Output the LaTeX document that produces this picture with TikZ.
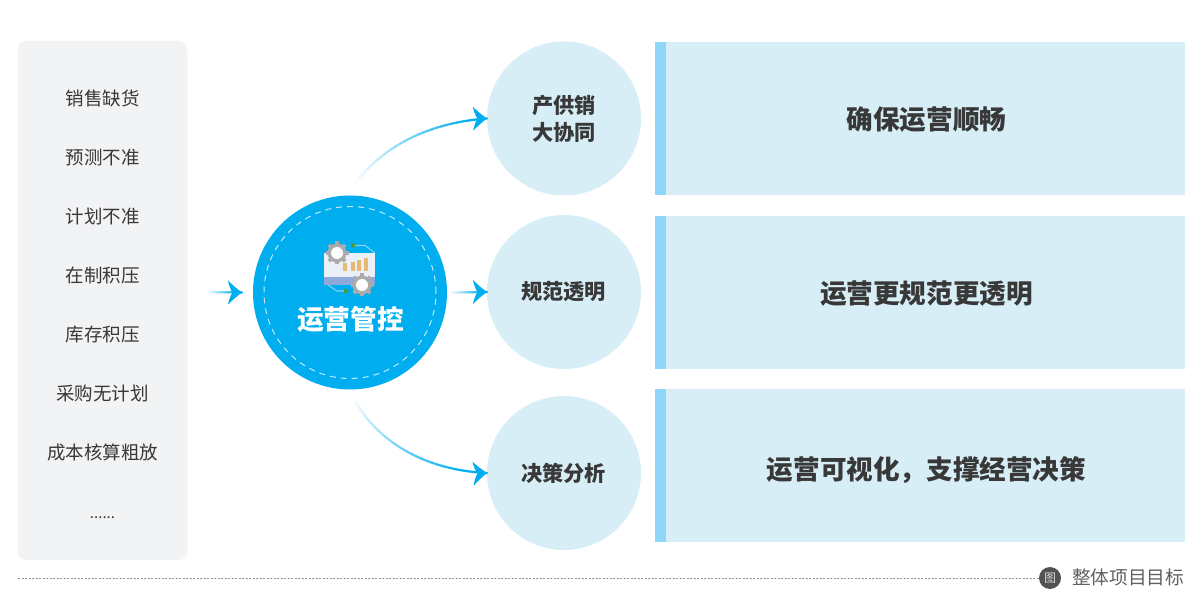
\documentclass[tikz,border=0pt]{standalone}
\usepackage{fontspec}
\setmainfont{Noto Sans CJK SC}
\usetikzlibrary{calc}
\definecolor{ablue}{HTML}{00AEEF}
\definecolor{lightc}{HTML}{D7EEF6}
\definecolor{barc}{HTML}{8FD7FA}
\definecolor{panelc}{HTML}{F2F3F5}
\definecolor{inkc}{HTML}{383838}
\definecolor{iconbody}{HTML}{E9F0F7}
\definecolor{iconstrip}{HTML}{8FA8DA}
\definecolor{iconbar}{HTML}{E9B873}
\definecolor{iconline}{HTML}{7FD3F5}
\definecolor{icongear}{HTML}{ABABAB}
\definecolor{icongreen}{HTML}{4F9A3F}
\tikzset{
  x=1pt,y=-1pt,
  every node/.style={inner sep=0pt,outer sep=0pt,align=center},
  item/.style={font=\fontsize{18.5}{22}\selectfont,text=inkc},
  circ/.style={circle,fill=lightc,minimum size=154pt},
  circtxt/.style={font=\bfseries\fontsize{21.2}{27}\selectfont,text=inkc},
  bigtxt/.style={font=\bfseries\fontsize{26.6}{32}\selectfont,text=inkc},
}
% gradient along a path already marked with coordinates #1-0 ... #1-30
\newcommand{\gradline}[1]{%
  \foreach \ka in {0,...,29}{
    \pgfmathtruncatemacro{\kb}{\ka+1}
    \pgfmathtruncatemacro{\kc}{min(100,\ka*100/26)}
    \draw[color=ablue!\kc!white,line width=2.2pt,line cap=round] (#1-\ka) -- (#1-\kb);
  }%
}
% arrow head with its point at coordinate #1, turned by #2 degrees
\newcommand{\headat}[2]{%
  \fill[ablue,shift={(#1)},rotate=#2] (0,0) .. controls (-5,-3.5) and (-10,-8) .. (-14,-12)
     .. controls (-13,-7) and (-11.5,-3) .. (-9.5,0)
     .. controls (-11.5,3) and (-13,7) .. (-14,12)
     .. controls (-10,8) and (-5,3.5) .. cycle;%
}
\begin{document}
\begin{tikzpicture}
\useasboundingbox (0,0) rectangle (1202,601);
\fill[white] (0,0) rectangle (1202,601);
% left panel
\node[fill=panelc,rounded corners=8pt,minimum width=169pt,minimum height=519pt] (panel) at (102.5,300.5) {};
\node[item] (t1) at (102.5,98) {销售缺货};
\node[item] (t2) at (102.5,157.5) {预测不准};
\node[item] (t3) at (102.5,216) {计划不准};
\node[item] (t4) at (102.5,275) {在制积压};
\node[item] (t5) at (102.5,334.5) {库存积压};
\node[item] (t6) at (102.5,393) {采购无计划};
\node[item] (t7) at (102.5,452) {成本核算粗放};
\node[item,font=\fontsize{15}{18}\selectfont] (t8) at (102.5,518) {......};
% centre
\node[circle,fill=ablue,minimum size=194pt] (hub) at (350,292.5) {};
\draw[white!75!ablue,line width=1pt,dash pattern=on 6pt off 5pt] (hub.center) circle (86pt);
\node[font=\bfseries\fontsize{26.7}{32}\selectfont,text=white] (hubt) at (350.5,319) {运营管控};
% icon
\begin{scope}
\draw[line width=1.1pt,color=iconline] (353,245.5) -- (365,245.5) -- (375,253);
\draw[line width=1.1pt,color=iconline] (328,285) -- (337,291) -- (346,291);
\fill[iconbody] (324,253) rectangle (375,277);
\fill[iconstrip] (324,277) rectangle (375,285);
\foreach \xx/\yy in {345/263,352.5/262,359/260,366/258}{
  \fill[iconbar] (\xx-2,271.5) rectangle (\xx+2,\yy);
}
\fill[icongreen] (353,245.5) circle (2.3pt);
\fill[icongreen] (346,291) circle (2.3pt);
\foreach \cx/\cy in {337/253,362/285}{
  \fill[icongear] (\cx,\cy) circle (9.5pt);
  \foreach \a in {0,45,...,315}{
    \fill[icongear,rotate around={\a:(\cx,\cy)}] (\cx-1.8,\cy-11.5) rectangle (\cx+1.8,\cy-8);
  }
  \fill[white] (\cx,\cy) circle (6pt);
}
\end{scope}
% circles
\node[circ] (c1) at (564,118.5) {};
\node[circ] (c2) at (564,292) {};
\node[circ] (c3) at (564,473) {};
\node[circtxt] (c1t) at (564,119) {产供销\\大协同};
\node[circtxt] (c2t) at (563.5,292) {规范透明};
\node[circtxt] (c3t) at (563.5,473.5) {决策分析};
% right bars
\fill[lightc] (655,42) rectangle (1185,195);
\fill[lightc] (655,216) rectangle (1185,369);
\fill[lightc] (655,389) rectangle (1185,542);
\fill[barc] (655,42) rectangle (666,195);
\fill[barc] (655,216) rectangle (666,369);
\fill[barc] (655,389) rectangle (666,542);
\node[bigtxt] (b1) at (926.5,120) {确保运营顺畅};
\node[bigtxt] (b2) at (926.5,294) {运营更规范更透明};
\node[bigtxt] (b3) at (926.5,470) {运营可视化，支撑经营决策};
% arrows
\coordinate (h1) at ($(hub.center)+(2,-105)$);
\coordinate (h3) at ($(hub.center)+(2,102)$);
\coordinate (e1) at (c1.west);
\coordinate (e3) at (c3.west);
\foreach \ka in {0,...,30}{
  \path (h1) .. controls (385,141) and (437,122) .. (e1) coordinate[pos=\ka/30] (u-\ka);
  \path (h3) .. controls (372,437) and (420,470) .. (e3) coordinate[pos=\ka/30] (d-\ka);
}
\gradline{u}
\gradline{d}
\headat{e1}{1}
\headat{e3}{3}
% straight arrows
\coordinate (s0) at (206,292);
\coordinate (s1) at ($(hub.west)+(-11,0)$);
\coordinate (r0) at ($(hub.east)+(3,0)$);
\coordinate (r1) at (c2.west);
\foreach \ka in {0,...,30}{
  \path (s0) -- (s1) coordinate[pos=\ka/30] (s-\ka);
  \path (r0) -- (r1) coordinate[pos=\ka/30] (r-\ka);
}
\gradline{s}
\gradline{r}
\headat{s1}{0}
\headat{r1}{0}
% footer
\node[circle,fill=black!68,minimum size=22pt,text=white!85!black,font=\fontsize{12}{14}\selectfont] (fi) at (1050,578) {图};
\node[font=\fontsize{18.7}{22}\selectfont,text=black!62,anchor=west] (ft) at (1072,577) {整体项目目标};
\coordinate (fl) at (18,578);
\draw[black!40,line width=0.8pt,dash pattern=on 2pt off 1.5pt] (fl) -- (fi.west);
\end{tikzpicture}
\end{document}
